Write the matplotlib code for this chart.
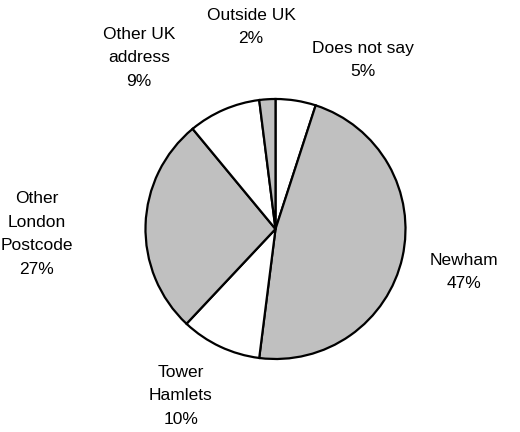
import matplotlib
matplotlib.use("Agg")
from matplotlib import pyplot as plt

plt.rcParams['font.family'] = ['Liberation Sans', 'DejaVu Sans']

# slices, clockwise from 12 o'clock
names = ['Does not say', 'Newham', 'Tower\nHamlets', 'Other\nLondon\nPostcode',
         'Other UK\naddress', 'Outside UK']
shares = [5, 47, 10, 27, 9, 2]
fills = ['white', '#c0c0c0', 'white', '#c0c0c0', 'white', '#c0c0c0']

# label centres in pixel space (x, y from top)
label_xy = [(363, 60), (464, 272), (181, 396), (37, 234), (139, 58), (251, 27)]

fig = plt.figure(figsize=(5.2, 4.32), dpi=100)
ax = fig.add_axes([0, 0, 1, 1])

ax.pie(shares, colors=fills, startangle=90, counterclock=False,
       center=(275.5, 432 - 229), radius=130,
       wedgeprops=dict(edgecolor='black', linewidth=1.6))
ax.set_xlim(0, 520)
ax.set_ylim(0, 432)
ax.set_aspect('equal')
ax.axis('off')

for name, val, (x, y) in zip(names, shares, label_xy):
    ax.text(x, 432 - y, f'{name}\n{val}%', ha='center', va='center',
            fontsize=12.5, linespacing=1.7)

fig.savefig('out.png', dpi=100)
